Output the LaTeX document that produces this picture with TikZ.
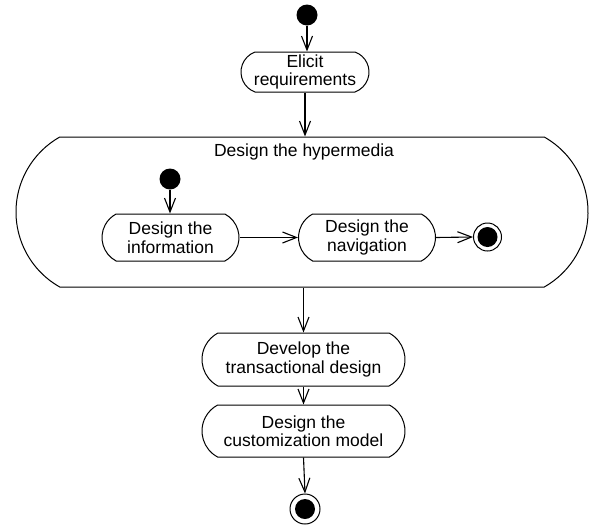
\documentclass[tikz,border=0pt]{standalone}
\usepackage{fontspec}
\setmainfont{Liberation Sans}
\usetikzlibrary{shapes.misc,arrows.meta}
\begin{document}
\begin{tikzpicture}[x=1pt,y=-1pt,
  every node/.style={font=\fontsize{17.5}{18.5}\selectfont, align=center, inner sep=0pt},
  action/.style={draw, line width=1pt, rounded rectangle, rounded rectangle arc length=124},
  initial/.style={circle, fill=black, minimum size=21pt},
  final/.style={circle, draw, line width=1pt, fill=white, minimum size=28pt,
    path picture={\fill[black] (path picture bounding box.center) circle (10pt);}},
  flow/.style={line width=1.1pt, -{Straight Barb[length=14pt,width=11pt,line width=1.1pt]}}]
\useasboundingbox (0,0) rectangle (589,528);

% outer flow
\node[initial] (start) at (307,15) {};
\node[action, minimum width=128pt, minimum height=40pt, rounded rectangle arc length=140] (elicit) at (305,72) {Elicit\\requirements};

% composite activity
\node[action, minimum width=572pt, minimum height=150pt, rounded rectangle arc length=121] (hyper) at (302,212) {};
\node (hypertitle) at (304,152) {Design the hypermedia};
\node[initial] (substart) at (170,179) {};
\node[action, minimum width=137pt, minimum height=47pt] (info) at (170.5,237.5) {Design the\\information};
\node[action, minimum width=137pt, minimum height=47pt] (nav) at (367,237.5) {Design the\\navigation};
\node[final] (subend) at (487.5,237) {};

% remaining activities
\node[action, minimum width=203pt, minimum height=53pt] (develop) at (303.5,359.5) {Develop the\\transactional design};
\node[action, minimum width=203pt, minimum height=52pt] (custom) at (303.5,431) {Design the\\customization model};
\node[final, minimum size=30pt] (end) at (305,509) {};

% transitions
\draw[flow] (start.south) -- (start.south |- elicit.north);
\draw[flow] (elicit.south) -- (elicit.south |- hyper.north);
\draw[flow] (substart.south) -- (substart.south |- info.north);
\draw[flow] (info.east) -- (nav.west);
\draw[flow] (nav.east) -- (subend.west);
\draw[flow] (hyper.south -| develop.north) -- (develop.north);
\draw[flow] (develop.south) -- (custom.north);
\draw[flow] (custom.south) -- (end.north);
\end{tikzpicture}
\end{document}
